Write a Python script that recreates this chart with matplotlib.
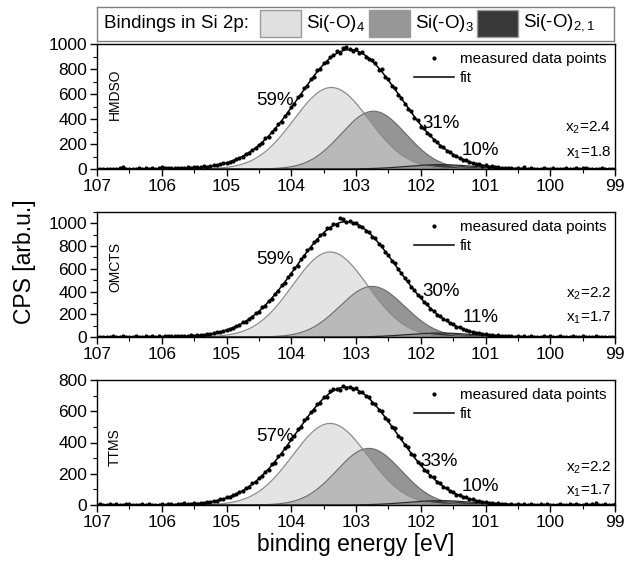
import numpy as np
import matplotlib
matplotlib.use("Agg")
import matplotlib.pyplot as plt
from matplotlib.patches import Rectangle
from matplotlib.ticker import MultipleLocator

plt.rcParams['font.family'] = ['Liberation Sans', 'DejaVu Sans']
plt.rcParams['mathtext.fontset'] = 'custom'
plt.rcParams['mathtext.rm'] = 'Liberation Sans'
plt.rcParams['mathtext.it'] = 'Liberation Sans:italic'
plt.rcParams['mathtext.bf'] = 'Liberation Sans:bold'

# measured points, 107 eV down to 99 eV in 0.05 eV steps
cps_hmdso = [
    2, 0, 3, 1, 4, 0, 2, 5, 14, 3,
    1, 4, 2, 6, 3, 5, 2, 7, 4, 12,
    16, 5, 8, 6, 9, 7, 11, 9, 13, 12,
    14, 16, 18, 22, 20, 27, 30, 34, 38, 45,
    52, 55, 64, 82, 92, 98, 120, 128, 156, 165,
    196, 210, 245, 258, 300, 318, 360, 380, 428, 450,
    500, 520, 575, 596, 648, 668, 722, 738, 790, 800,
    852, 858, 900, 912, 945, 930, 968, 975, 960, 942,
    958, 930, 936, 895, 880, 872, 850, 790, 800, 735,
    718, 662, 645, 590, 572, 518, 484, 462, 412, 390,
    340, 328, 285, 270, 232, 218, 186, 175, 146, 138,
    112, 106, 92, 74, 70, 55, 52, 40, 38, 28,
    30, 20, 22, 14, 16, 9, 12, 6, 9, 4,
    8, 2, 15, 3, 5, 1, 4, 2, 6, 0,
    3, 5, 1, 4, 2, 6, 0, 3, 8, 2,
    5, 12, 3, 1, 4, 2, 5, 0, 3, 2,
    4]
cps_omcts = [
    3, 1, 4, 0, 2, 5, 1, 3, 6, 2,
    4, 1, 7, 3, 2, 5, 3, 8, 4, 6,
    3, 7, 5, 9, 6, 10, 8, 12, 9, 14,
    12, 17, 15, 22, 25, 26, 35, 40, 42, 55,
    58, 74, 80, 98, 106, 128, 136, 162, 176, 208,
    222, 260, 276, 318, 335, 382, 402, 455, 476, 530,
    552, 605, 628, 688, 712, 765, 785, 835, 852, 898,
    910, 955, 958, 992, 990, 1050, 1040, 1012, 1025, 1000,
    1002, 975, 970, 936, 925, 882, 868, 820, 800, 748,
    725, 672, 648, 596, 565, 518, 490, 440, 418, 370,
    348, 305, 288, 248, 232, 198, 186, 155, 146, 120,
    112, 90, 85, 68, 64, 50, 47, 36, 35, 25,
    26, 17, 19, 11, 14, 8, 11, 5, 9, 3,
    7, 2, 5, 3, 6, 1, 4, 2, 5, 1,
    8, 3, 2, 5, 1, 4, 2, 6, 0, 3,
    7, 2, 4, 1, 5, 2, 3, 0, 4, 2,
    3]
cps_ttms = [
    2, 4, 1, 3, 5, 2, 6, 3, 1, 7,
    4, 2, 3, 1, 5, 2, 4, 1, 3, 2,
    5, 3, 6, 4, 2, 8, 5, 12, 7, 9,
    11, 8, 15, 13, 20, 18, 26, 27, 36, 38,
    49, 52, 66, 68, 86, 90, 110, 116, 140, 148,
    174, 184, 214, 226, 260, 272, 312, 326, 366, 380,
    424, 440, 484, 498, 542, 555, 595, 605, 645, 652,
    690, 692, 728, 740, 745, 736, 762, 750, 758, 744,
    748, 725, 722, 696, 690, 655, 648, 608, 600, 556,
    545, 498, 490, 440, 428, 382, 370, 326, 318, 274,
    265, 226, 218, 184, 178, 146, 142, 115, 112, 88,
    86, 66, 65, 50, 49, 36, 38, 25, 28, 17,
    21, 12, 15, 8, 11, 5, 9, 3, 7, 2,
    5, 1, 4, 2, 6, 0, 3, 8, 2, 4,
    1, 3, 2, 5, 1, 3, 6, 2, 9, 3,
    1, 4, 2, 5, 11, 3, 1, 4, 2, 3,
    5]

samples = ['HMDSO', 'OMCTS', 'TTMS']
# fitted peaks (center eV, height, sigma): Si(-O)4, Si(-O)3, Si(-O)2,1
peaks_hmdso = [(103.38, 652, 0.58), (102.73, 462, 0.50), (101.70, 35, 0.50)]
peaks_omcts = [(103.40, 748, 0.58), (102.75, 445, 0.50), (101.70, 35, 0.50)]
peaks_ttms = [(103.40, 522, 0.58), (102.80, 362, 0.50), (101.70, 28, 0.50)]
fit_hmdso = (103.10, 955, 0.78)
fit_omcts = (103.15, 1015, 0.78)
fit_ttms = (103.15, 755, 0.78)
shares = [['59%', '31%', '10%'], ['59%', '30%', '11%'], ['57%', '33%', '10%']]
x2 = ['2.4', '2.2', '2.2']
x1 = ['1.8', '1.7', '1.7']


def gauss(x, c, h, s):
    return h * np.exp(-(x - c) ** 2 / (2 * s ** 2))


W, H = 627, 564
fig = plt.figure(figsize=(W / 100, H / 100), dpi=100)

energy = np.linspace(107, 99, len(cps_hmdso))
xf = np.linspace(107, 99, 801)

panels = [
    (cps_hmdso, peaks_hmdso, fit_hmdso, 44, 1000, 1000, 0.60,
     [(104.25, 545), (101.68, 360), (101.08, 145)], (330, 130)),
    (cps_omcts, peaks_omcts, fit_omcts, 212, 1100, 1000, 0.56,
     [(104.25, 680), (101.68, 400), (101.08, 175)], (380, 170)),
    (cps_ttms, peaks_ttms, fit_ttms, 380, 800, 800, 0.46,
     [(104.25, 440), (101.72, 280), (101.08, 118)], (240, 90)),
]

fills = ['#d2d2d2', '#959595', '#383838']
edges = ['#8c8c8c', '#6e6e6e', '#2a2a2a']

for k, (cps, peaks, fit, top, ymax, ytop, namey, pct_pos, xpos) in enumerate(panels):
    ax = fig.add_axes([97 / W, 1 - (top + 125) / H, 518 / W, 125 / H])

    c4 = gauss(xf, *peaks[0])
    c3 = gauss(xf, *peaks[1])
    c21 = gauss(xf, *peaks[2])
    ax.fill_between(xf, 0, c3, color=fills[1], lw=0, zorder=1)
    ax.fill_between(xf, 0, c21, color=fills[2], lw=0, zorder=1.5)
    ax.fill_between(xf, 0, c4, color=fills[0], alpha=0.6, lw=0, zorder=2)
    ax.plot(xf, c4, color=edges[0], lw=0.9, zorder=2.5)
    ax.plot(xf, c3, color=edges[1], lw=0.9, zorder=2.5)
    ax.plot(xf, c21, color=edges[2], lw=0.9, zorder=2.5)

    ax.plot(energy, cps, 'o', ms=2.0, color='k', ls='none', zorder=4,
            label='measured data points')
    ax.plot(xf, gauss(xf, *fit), color='k', lw=1.1, zorder=3, label='fit')
    ax.legend(loc='upper right', bbox_to_anchor=(1.0, 1.0), frameon=False,
              fontsize=11, handlelength=2.6, handletextpad=0.4,
              labelspacing=0.3, borderaxespad=0.0, borderpad=0.55)

    ax.set_xlim(107, 99)
    ax.set_ylim(0, ymax)
    ax.set_xticks(np.arange(107, 98.5, -1))
    ax.xaxis.set_minor_locator(MultipleLocator(0.5))
    ax.set_yticks(np.arange(0, ytop + 1, 200))
    ax.yaxis.set_minor_locator(MultipleLocator(100))
    ax.tick_params(which='major', direction='out', length=5, width=1,
                   labelsize=12.5, pad=2)
    ax.tick_params(which='minor', direction='out', length=3, width=0.8)
    for sp in ax.spines.values():
        sp.set_linewidth(1)

    ax.text(0.035, namey, samples[k], rotation=90, transform=ax.transAxes,
            ha='center', va='center', fontsize=10)
    for lab, (px, py) in zip(shares[k], pct_pos):
        ax.text(px, py, lab, ha='center', va='center', fontsize=13.5)
    ax.text(99.06, xpos[0], 'x$_2$=' + x2[k], ha='right', va='center', fontsize=11)
    ax.text(99.06, xpos[1], 'x$_1$=' + x1[k], ha='right', va='center', fontsize=11)

# header box with the component legend
lax = fig.add_axes([97 / W, 1 - 41 / H, 517 / W, 34 / H])
lax.set_xlim(0, 517)
lax.set_ylim(34, 0)
lax.set_xticks([])
lax.set_yticks([])
for sp in lax.spines.values():
    sp.set_color('#808080')
    sp.set_linewidth(1)
lax.text(7, 16, 'Bindings in Si 2p:', va='center', ha='left', fontsize=13.5)
names = ['Si(-O)$_4$', 'Si(-O)$_3$', 'Si(-O)$_{2,1}$']
patch_x = [163, 272, 380]
patch_fc = ['#e0e0e0', '#979797', '#383838']
for name, px, fc in zip(names, patch_x, patch_fc):
    lax.add_patch(Rectangle((px, 3), 41, 27, facecolor=fc, edgecolor='#9a9a9a', lw=1))
    lax.text(px + 46, 16, name, va='center', ha='left', fontsize=13.5)

fig.text(356 / W, 1 - 544 / H, 'binding energy [eV]', ha='center', va='center', fontsize=16.5)
fig.text(24 / W, 1 - 262 / H, 'CPS [arb.u.]', rotation=90, ha='center', va='center',
         fontsize=16.5)

fig.savefig('out.png', dpi=100)
